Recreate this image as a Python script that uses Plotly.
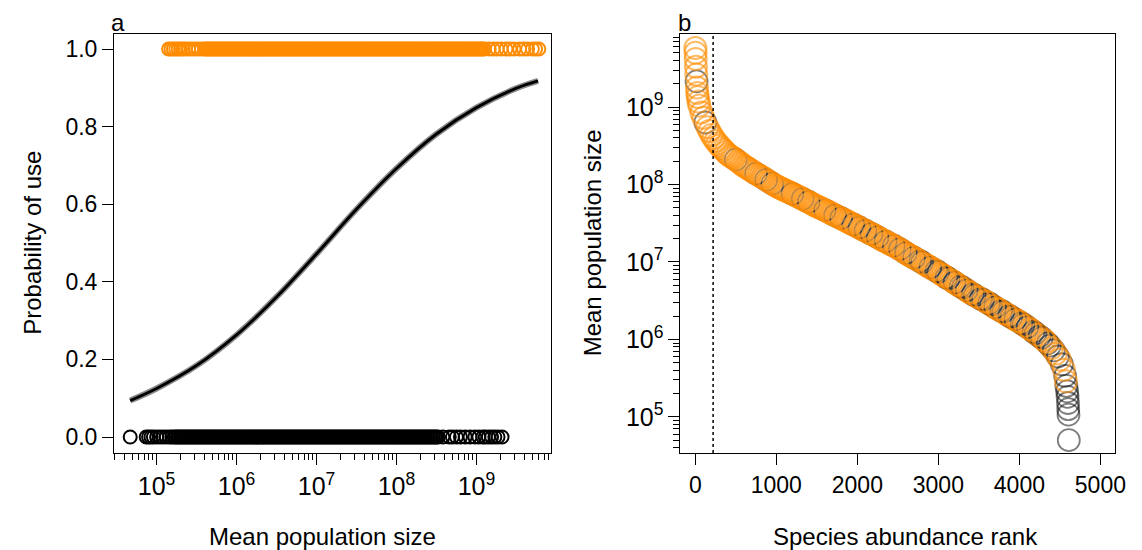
import plotly.graph_objects as go

# ---------------- Panel a data (log10 of mean population size) ----------------
unused_log10_pop = [
    4.67, 4.87, 4.90, 4.93, 4.96, 5.00, 5.04, 5.08, 5.12, 5.16, 5.19,
    5.22, 5.24, 5.26, 5.28, 5.30, 5.32, 5.34, 5.36, 5.38, 5.40, 5.42, 5.44, 5.46, 5.48,
    5.50, 5.52, 5.54, 5.56, 5.58, 5.60, 5.62, 5.64, 5.66, 5.68, 5.70, 5.72, 5.74, 5.76,
    5.78, 5.80, 5.82, 5.84, 5.86, 5.88, 5.90, 5.92, 5.94, 5.96, 5.98,
    6.00, 6.02, 6.04, 6.06, 6.08, 6.10, 6.12, 6.14, 6.16, 6.18, 6.20, 6.22, 6.24, 6.26,
    6.28, 6.30, 6.32, 6.34, 6.36, 6.38, 6.40, 6.42, 6.44, 6.46, 6.48, 6.50, 6.52, 6.54,
    6.56, 6.58, 6.60, 6.62, 6.64, 6.66, 6.68, 6.70, 6.72, 6.74, 6.76, 6.78, 6.80, 6.82,
    6.84, 6.86, 6.88, 6.90, 6.92, 6.94, 6.96, 6.98,
    7.00, 7.02, 7.04, 7.06, 7.08, 7.10, 7.12, 7.14, 7.16, 7.18, 7.20, 7.22, 7.24, 7.26,
    7.28, 7.30, 7.32, 7.34, 7.36, 7.38, 7.40, 7.42, 7.44, 7.46, 7.48, 7.50, 7.52, 7.54,
    7.56, 7.58, 7.60, 7.62, 7.64, 7.66, 7.68, 7.70, 7.72, 7.74, 7.76, 7.78, 7.80, 7.82,
    7.84, 7.86, 7.88, 7.90, 7.92, 7.94, 7.96, 7.98,
    8.00, 8.02, 8.04, 8.06, 8.08, 8.10, 8.12, 8.14, 8.16, 8.18, 8.20, 8.22, 8.24, 8.26,
    8.28, 8.30, 8.32, 8.34, 8.36, 8.38, 8.40, 8.42, 8.44, 8.46, 8.48, 8.50, 8.52,
    8.58, 8.66, 8.70, 8.75, 8.80, 8.86, 8.92, 8.98, 9.03, 9.08, 9.11, 9.15, 9.19, 9.23,
    9.27, 9.32,
]

used_log10_pop = [
    5.15, 5.18, 5.21, 5.24, 5.27, 5.30, 5.33, 5.36, 5.40, 5.44, 5.48, 5.52, 5.56, 5.60,
    5.62, 5.64, 5.66, 5.68, 5.70, 5.72, 5.74, 5.76, 5.78, 5.80, 5.82, 5.84, 5.86, 5.88,
    5.90, 5.92, 5.94, 5.96, 5.98,
    6.00, 6.02, 6.04, 6.06, 6.08, 6.10, 6.12, 6.14, 6.16, 6.18, 6.20, 6.22, 6.24, 6.26,
    6.28, 6.30, 6.32, 6.34, 6.36, 6.38, 6.40, 6.42, 6.44, 6.46, 6.48, 6.50, 6.52, 6.54,
    6.56, 6.58, 6.60, 6.62, 6.64, 6.66, 6.68, 6.70, 6.72, 6.74, 6.76, 6.78, 6.80, 6.82,
    6.84, 6.86, 6.88, 6.90, 6.92, 6.94, 6.96, 6.98,
    7.00, 7.02, 7.04, 7.06, 7.08, 7.10, 7.12, 7.14, 7.16, 7.18, 7.20, 7.22, 7.24, 7.26,
    7.28, 7.30, 7.32, 7.34, 7.36, 7.38, 7.40, 7.42, 7.44, 7.46, 7.48, 7.50, 7.52, 7.54,
    7.56, 7.58, 7.60, 7.62, 7.64, 7.66, 7.68, 7.70, 7.72, 7.74, 7.76, 7.78, 7.80, 7.82,
    7.84, 7.86, 7.88, 7.90, 7.92, 7.94, 7.96, 7.98,
    8.00, 8.02, 8.04, 8.06, 8.08, 8.10, 8.12, 8.14, 8.16, 8.18, 8.20, 8.22, 8.24, 8.26,
    8.28, 8.30, 8.32, 8.34, 8.36, 8.38, 8.40, 8.42, 8.44, 8.46, 8.48, 8.50, 8.52, 8.54,
    8.56, 8.58, 8.60, 8.62, 8.64, 8.66, 8.68, 8.70, 8.72, 8.74, 8.76, 8.78, 8.80, 8.82,
    8.84, 8.86, 8.88, 8.90, 8.92, 8.94, 8.96, 8.98, 9.00, 9.02, 9.04, 9.06, 9.08, 9.10,
    9.16, 9.21, 9.26, 9.31, 9.37, 9.42, 9.47, 9.54, 9.59, 9.64, 9.70, 9.74, 9.78,
]

# fitted probability of use
curve_log10_pop = [4.67, 5.0, 5.5, 6.0, 6.5, 7.0, 7.5, 8.0, 8.5, 9.0, 9.5, 9.77]
curve_prob = [0.094, 0.125, 0.184, 0.263, 0.361, 0.472, 0.587, 0.692, 0.781, 0.849, 0.899, 0.918]

# ---------------- Panel b data ----------------
abund_rank = [
    1, 3, 5, 8, 12, 16, 20, 25, 30, 40, 50, 75, 100, 125, 150, 175, 200, 225, 250, 275,
    300, 325, 350, 375, 400, 425, 450, 475, 500, 525,
    550, 575, 600, 625, 650, 675, 700, 725, 750, 775,
    800, 825, 850, 875, 900, 925, 950, 975, 1000, 1025,
    1050, 1075, 1100, 1125, 1150, 1175, 1200, 1225, 1250, 1275,
    1300, 1325, 1350, 1375, 1400, 1425, 1450, 1475, 1500, 1525,
    1550, 1575, 1600, 1625, 1650, 1675, 1700, 1725, 1750, 1775,
    1800, 1825, 1850, 1875, 1900, 1925, 1950, 1975, 2000, 2025,
    2050, 2075, 2100, 2125, 2150, 2175, 2200, 2225, 2250, 2275,
    2300, 2325, 2350, 2375, 2400, 2425, 2450, 2475, 2500, 2525,
    2550, 2575, 2600, 2625, 2650, 2675, 2700, 2725, 2750, 2775,
    2800, 2825, 2850, 2875, 2900, 2925, 2950, 2975, 3000, 3025,
    3050, 3075, 3100, 3125, 3150, 3175, 3200, 3225, 3250, 3275,
    3300, 3325, 3350, 3375, 3400, 3425, 3450, 3475, 3500, 3525,
    3550, 3575, 3600, 3625, 3650, 3675, 3700, 3725, 3750, 3775,
    3800, 3825, 3850, 3875, 3900, 3925, 3950, 3975, 4000, 4025,
    4050, 4075, 4100, 4125, 4150, 4175, 4200, 4225, 4250, 4275,
    4300, 4325, 4350, 4375, 4400,
    4425, 4450, 4475, 4500, 4525, 4550, 4565, 4575, 4580, 4590, 4595, 4600, 4603, 4606, 4610,
]
abund_log10_pop = [
    9.76, 9.70, 9.62, 9.52, 9.42, 9.33, 9.25, 9.18, 9.13, 9.07, 9.02, 8.93, 8.86, 8.80,
    8.74, 8.69, 8.64, 8.60, 8.56, 8.53,
    8.50, 8.47, 8.445, 8.415, 8.39, 8.37, 8.355, 8.34, 8.32, 8.30,
    8.28, 8.26, 8.24, 8.225, 8.21, 8.19, 8.175, 8.157, 8.14, 8.125,
    8.11, 8.095, 8.08, 8.06, 8.045, 8.03, 8.01, 7.995, 7.98, 7.967,
    7.955, 7.942, 7.93, 7.917, 7.905, 7.892, 7.88, 7.867, 7.855, 7.842,
    7.83, 7.815, 7.80, 7.787, 7.775, 7.76, 7.745, 7.732, 7.72, 7.707,
    7.695, 7.682, 7.67, 7.657, 7.645, 7.63, 7.615, 7.602, 7.59, 7.577,
    7.565, 7.552, 7.54, 7.525, 7.51, 7.497, 7.485, 7.472, 7.46, 7.445,
    7.43, 7.417, 7.405, 7.39, 7.375, 7.362, 7.35, 7.335, 7.32, 7.305,
    7.29, 7.277, 7.265, 7.25, 7.235, 7.222, 7.21, 7.195, 7.18, 7.165,
    7.15, 7.132, 7.115, 7.10, 7.085, 7.07, 7.055, 7.04, 7.025, 7.01,
    6.995, 6.977, 6.96, 6.945, 6.93, 6.915, 6.90, 6.885, 6.87, 6.852,
    6.835, 6.817, 6.80, 6.785, 6.77, 6.752, 6.735, 6.717, 6.70, 6.685,
    6.67, 6.652, 6.635, 6.617, 6.60, 6.585, 6.57, 6.555, 6.54, 6.525,
    6.51, 6.495, 6.48, 6.465, 6.45, 6.432, 6.415, 6.40, 6.385, 6.37,
    6.355, 6.337, 6.32, 6.305, 6.29, 6.275, 6.26, 6.245, 6.23, 6.212,
    6.195, 6.177, 6.16, 6.14, 6.12, 6.10, 6.08, 6.06, 6.04, 6.02,
    6.00, 5.975, 5.95, 5.92, 5.89,
    5.86, 5.82, 5.78, 5.74, 5.68, 5.61, 5.53, 5.46, 5.40, 5.33, 5.26, 5.18, 5.10, 5.03, 4.70,
]
# ranks whose species are not used (drawn black)
unused_ranks = [
    16, 125, 500, 750, 875, 950, 1200, 1325, 1400, 1600, 1725, 1800, 1950, 2025, 2100,
    2175, 2250, 2350, 2450, 2525, 2600, 2700, 2775, 2800, 2900, 2975, 3000, 3100, 3125,
    3200, 3275, 3300, 3350, 3425, 3450, 3525, 3550, 3625, 3650, 3700, 3775, 3800, 3875,
    3900, 3950, 4025, 4050, 4100, 4175, 4200, 4250, 4275, 4350, 4375, 4425, 4475, 4525,
    4565, 4580, 4590, 4595, 4600, 4603, 4606, 4610,
]
cutoff_rank = 220

# ---------------- styling ----------------
FONT = "Liberation Sans, Arial, Helvetica, sans-serif"
ORANGE = "#FF8C00"
TICK_FONT = dict(family=FONT, size=23, color="black")
LOG_TICK_FONT = dict(family=FONT, size=25, color="black")

n = min(len(abund_rank), len(abund_log10_pop))
unused_set = set(unused_ranks)
b_used_x = [abund_rank[i] for i in range(n) if abund_rank[i] not in unused_set]
b_used_y = [10 ** abund_log10_pop[i] for i in range(n) if abund_rank[i] not in unused_set]
b_unused_x = [abund_rank[i] for i in range(n) if abund_rank[i] in unused_set]
b_unused_y = [10 ** abund_log10_pop[i] for i in range(n) if abund_rank[i] in unused_set]

fig = go.Figure()

# panel a
fig.add_trace(go.Scatter(
    x=[10 ** v for v in unused_log10_pop], y=[0] * len(unused_log10_pop),
    mode="markers", xaxis="x", yaxis="y",
    marker=dict(symbol="circle-open", size=13, color="black", line=dict(width=2, color="black")),
    showlegend=False))
fig.add_trace(go.Scatter(
    x=[10 ** v for v in used_log10_pop], y=[1] * len(used_log10_pop),
    mode="markers", xaxis="x", yaxis="y",
    marker=dict(symbol="circle-open", size=13, color=ORANGE, line=dict(width=2, color=ORANGE)),
    showlegend=False))
fig.add_trace(go.Scatter(
    x=[10 ** v for v in curve_log10_pop], y=curve_prob, mode="lines",
    xaxis="x", yaxis="y", line=dict(color="#8a8a8a", width=6, shape="spline"),
    showlegend=False))
fig.add_trace(go.Scatter(
    x=[10 ** v for v in curve_log10_pop], y=curve_prob, mode="lines",
    xaxis="x", yaxis="y", line=dict(color="black", width=3, shape="spline"),
    showlegend=False))

# panel b (unused drawn first, used orange rings blended over them)
fig.add_trace(go.Scatter(
    x=b_unused_x, y=b_unused_y, mode="markers", xaxis="x2", yaxis="y2",
    marker=dict(symbol="circle-open", size=22, color="rgba(0,0,0,0.5)",
                line=dict(width=1.8, color="rgba(0,0,0,0.5)")),
    showlegend=False))
fig.add_trace(go.Scatter(
    x=b_used_x, y=b_used_y, mode="markers", xaxis="x2", yaxis="y2",
    marker=dict(symbol="circle-open", size=22, color="rgba(255,140,0,0.6)",
                line=dict(width=2, color="rgba(255,140,0,0.6)")),
    showlegend=False))

# the page shows the figure 8px lower than its own origin; compensate vertically
W, H = 1142, 542
OFF_X, OFF_Y = 0, 8
def px_x(p):
    return (p - OFF_X) / W
def px_y(p):
    return 1 - (p - OFF_Y) / H

log_major = [1e5, 1e6, 1e7, 1e8, 1e9]
log_text = ["10<sup>5</sup>", "10<sup>6</sup>", "10<sup>7</sup>", "10<sup>8</sup>", "10<sup>9</sup>"]
minor_vals = [m * 10 ** e for e in range(4, 10) for m in range(2, 10)]

axis_common = dict(showline=True, linecolor="black", linewidth=1, mirror=True,
                   ticks="outside", ticklen=11, tickwidth=1, tickcolor="black",
                   showgrid=False, zeroline=False)
minor_common = dict(tickvals=minor_vals, ticks="outside", ticklen=6,
                    tickcolor="black", tickwidth=1, showgrid=False)

def label(text, x, y, size, angle=0, xanchor="center"):
    return dict(text=text, xref="paper", yref="paper", x=px_x(x), y=px_y(y),
                xanchor=xanchor, yanchor="middle", showarrow=False, textangle=angle,
                font=dict(family=FONT, size=size, color="black"))

fig.update_layout(
    width=W, height=H, margin=dict(l=0, r=0, t=0, b=0),
    paper_bgcolor="white", plot_bgcolor="white",
    xaxis=dict(domain=[px_x(107), px_x(548)], anchor="y", type="log",
               range=[4.467, 9.929], tickvals=log_major, ticktext=log_text,
               minor=minor_common, tickfont=LOG_TICK_FONT, **axis_common),
    yaxis=dict(domain=[px_y(453), px_y(34)], anchor="x",
               range=[-0.0412, 1.0387], tickvals=[0, 0.2, 0.4, 0.6, 0.8, 1.0],
               ticktext=["0.0", "0.2", "0.4", "0.6", "0.8", "1.0"],
               tickfont=TICK_FONT, **axis_common),
    xaxis2=dict(domain=[px_x(679), px_x(1118)], anchor="y2",
                range=[-183, 5183], tickvals=[0, 1000, 2000, 3000, 4000, 5000],
                tickfont=TICK_FONT, **axis_common),
    yaxis2=dict(domain=[px_y(453), px_y(34)], anchor="x2", type="log",
                range=[4.535, 9.942], tickvals=log_major, ticktext=log_text,
                minor=minor_common, tickfont=LOG_TICK_FONT, **axis_common),
    shapes=[dict(type="line", xref="x2", yref="y2 domain", x0=cutoff_rank, x1=cutoff_rank,
                 y0=0, y1=1, line=dict(color="black", width=1.5, dash="dot"))],
    annotations=[
        label("a", 102, 23, 24, xanchor="left"),
        label("b", 674, 23, 24, xanchor="left"),
        label("Mean population size", 318, 536, 24),
        label("Species abundance rank", 906, 536, 24),
        label("Probability of use", 24, 243, 24, angle=-90),
        label("Mean population size", 590, 243, 24, angle=-90),
    ],
)

fig.write_html("out.html")
